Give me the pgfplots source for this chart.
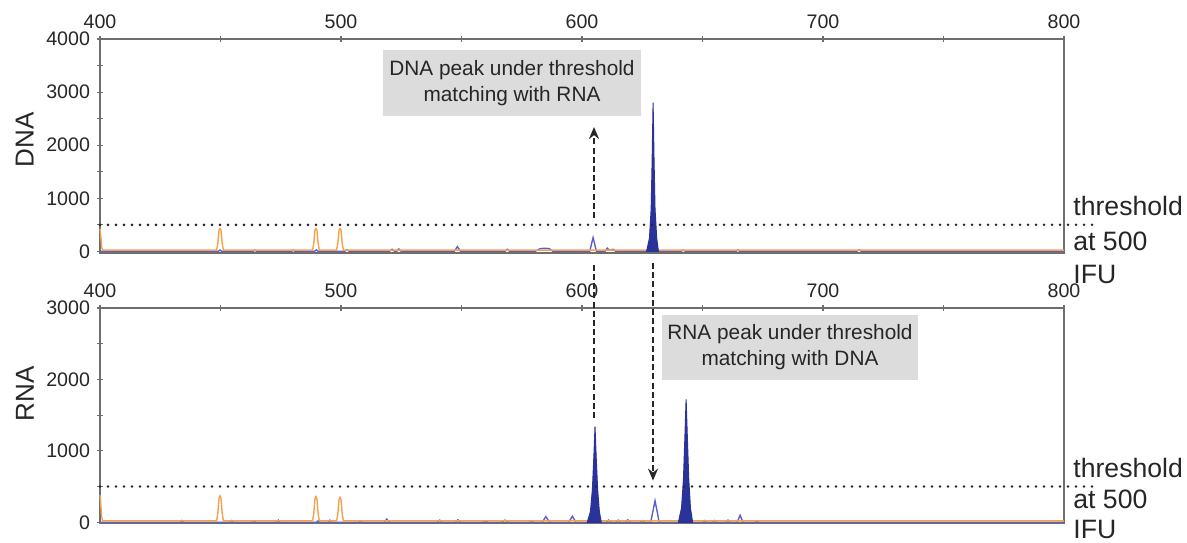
\documentclass[border=0pt]{standalone}
\usepackage{fontspec}
\setmainfont{Liberation Sans}
\usepackage{pgfplots}
\pgfplotsset{compat=1.18}
\usetikzlibrary{arrows.meta}

\definecolor{tracecol}{HTML}{5A5FCF}
\definecolor{peakcol}{HTML}{2A3399}
\definecolor{sizecol}{HTML}{F5A04A}
\definecolor{boxgray}{HTML}{DCDCDC}
\definecolor{axgray}{HTML}{6E6E6E}

\pgfplotsset{
  elecstyle/.style={
    width=482pt, scale only axis,
    xmin=400, xmax=800, clip=false,
    axis line style={axgray, line width=0.9pt},
    xtick={400,500,600,700,800}, minor xtick={450,550,650,750},
    xtick pos=right, xticklabel pos=right, ytick pos=left,
    tick align=center, major tick length=3pt, minor tick length=3pt,
    tick style={axgray, line width=0.6pt},
    ticklabel style={font=\fontsize{9.8}{11}\selectfont, text=black!85},
    /pgf/number format/1000 sep={},
    /pgf/number format/assume math mode=true,
  }
}
\tikzset{
  dotline/.style={black!85, line width=1.4pt, line cap=round, dash pattern=on 0pt off 4pt},
  thrlab/.style={anchor=base west, inner sep=0pt, text=black!85, font=\fontsize{13.3}{16}\selectfont},
  notebox/.style={fill=boxgray, align=center, text=black!85, inner sep=0pt,
    font=\fontsize{10.4}{13}\selectfont},
  matcharrow/.style={black!85, line width=1.1pt, dash pattern=on 3pt off 1.6pt}
}

\begin{document}
\begin{tikzpicture}

% ---- DNA panel ----
\begin{axis}[elecstyle, at={(50pt,144.5pt)}, anchor=south west, height=107pt,
  ymin=-30, ymax=4000,
  ytick={0,1000,2000,3000,4000}, minor ytick={500,1500,2500,3500},
  ylabel={DNA},
  ylabel style={at={(axis description cs:-0.078,0.53)}, anchor=center,
    font=\fontsize{13}{14}\selectfont, text=black!85}]

\addplot[tracecol, line width=0.7pt] coordinates {
  (400,0)(449,0)(449.8,25)(450.6,0)(463.5,0)(464.3,25)(465,0)
  (479.5,0)(480.2,25)(481,0)(489,0)(489.8,30)(490.6,0)
  (501.5,0)(502.5,30)(503.5,0)(520,0)(521.2,40)(522.4,0)(523,0)(524,45)(525,0)
  (547,0)(548.3,90)(549.6,0)(568,0)(569,40)(570,0)
  (580.5,0)(582.5,50)(584.5,60)(586.5,50)(588,0)
  (603.2,0)(604.6,260)(606,0)(609.5,0)(610.5,60)(611.5,20)(613,40)(614,0)
  (641,0)(642,25)(643,0)(664,0)(664.7,30)(665.4,0)(714,0)(715,30)(716,0)(800,0)};

\addplot[sizecol, line width=0.7pt] coordinates {
  (400,430)(400.3,300)(400.7,80)(401.1,25)
  (448.4,25)(448.9,150)(449.4,400)(449.8,430)(450.2,400)(450.7,150)(451.2,25)
  (488.2,25)(488.7,150)(489.2,400)(489.6,430)(490,400)(490.5,150)(491,25)
  (498.2,25)(498.7,150)(499.2,400)(499.6,430)(500,400)(500.5,150)(501,25)
  (800,25)};

\addplot[peakcol, fill=peakcol, line width=0.5pt] coordinates {
  (626.8,0)(628,250)(628.7,800)(629.1,1700)(629.5,2800)
  (629.9,1700)(630.3,800)(631,250)(631.7,0)} \closedcycle;

\draw[dotline] (axis cs:400,500) -- (axis cs:813.7,500);
\end{axis}

% ---- RNA panel ----
\begin{axis}[elecstyle, at={(50pt,9.5pt)}, anchor=south west, height=107.5pt,
  ymin=-10, ymax=3000,
  ytick={0,1000,2000,3000}, minor ytick={500,1500,2500},
  ylabel={RNA},
  ylabel style={at={(axis description cs:-0.078,0.60)}, anchor=center,
    font=\fontsize{13}{14}\selectfont, text=black!85}]

\addplot[tracecol, line width=0.7pt] coordinates {
  (400,0)(433.3,0)(434,25)(434.7,0)(454,0)(454.7,25)(455.4,0)
  (463.3,0)(464,20)(464.7,0)(473.3,0)(474,30)(474.7,0)
  (489.8,0)(490.5,20)(491.2,0)(494.6,0)(495.4,30)(496.2,0)
  (507.3,0)(508,15)(508.7,0)(518,0)(519,45)(520,0)
  (540,0)(541,30)(542,0)(547.5,0)(548.5,35)(549.5,0)
  (559,0)(560,20)(561,0)(566.5,0)(568,30)(569.5,0)
  (578,0)(579,15)(580,0)(583.5,0)(585,80)(586.5,0)(594.5,0)(596,85)(597.5,0)
  (610,0)(611,30)(612,0)(614,0)(615,30)(616,0)(618,0)(619,35)(620,0)
  (624,0)(625,25)(626,0)(628.5,0)(629.4,150)(630.3,300)(631.2,150)(632,0)
  (650.2,0)(651,25)(651.8,0)(654.2,0)(655,25)(655.8,0)
  (659.8,0)(660.6,30)(661.4,0)(664.4,0)(665.6,100)(666.8,0)
  (672,0)(672.6,15)(673.2,0)(800,0)};

\addplot[sizecol, line width=0.7pt] coordinates {
  (400,380)(400.3,260)(400.7,70)(401.1,20)
  (448.4,20)(448.9,130)(449.4,340)(449.8,370)(450.2,340)(450.7,130)(451.2,20)
  (488.2,20)(488.7,125)(489.2,330)(489.6,360)(490,330)(490.5,125)(491,20)
  (498.2,20)(498.7,120)(499.2,320)(499.6,350)(500,320)(500.5,120)(501,20)
  (800,20)};

\addplot[peakcol, fill=peakcol, line width=0.5pt] coordinates {
  (602.2,0)(603.5,150)(604.3,450)(604.9,900)(605.4,1340)
  (605.9,900)(606.5,450)(607.2,150)(608,0)} \closedcycle;
\addplot[peakcol, fill=peakcol, line width=0.5pt] coordinates {
  (640,0)(641.3,200)(642.1,600)(642.7,1200)(643.2,1720)
  (643.7,1200)(644.3,600)(645,200)(645.9,0)} \closedcycle;

\draw[dotline] (axis cs:400,500) -- (axis cs:813.7,500);
\end{axis}

% ---- annotations ----
\node[notebox, minimum width=129pt, minimum height=33pt] at (256pt,229.5pt)
  {DNA peak under threshold\\matching with RNA};
\node[notebox, minimum width=128pt, minimum height=32.5pt] at (395pt,97.25pt)
  {RNA peak under threshold\\matching with DNA};

\draw[matcharrow] (297pt,62pt) -- (297pt,139.5pt);
\draw[matcharrow, -{Stealth[length=6pt, width=5pt]}] (297pt,162pt) -- (297pt,207.5pt);
\draw[matcharrow, -{Stealth[length=6pt, width=5pt]}] (326.5pt,139.5pt) -- (326.5pt,30.7pt);

\node[thrlab] at (536.5pt,163.5pt) {threshold};
\node[thrlab] at (536.5pt,145.7pt) {at 500};
\node[thrlab] at (536.5pt,129.5pt) {IFU};
\node[thrlab] at (536.5pt,32.5pt) {threshold};
\node[thrlab] at (536.5pt,17pt) {at 500};
\node[thrlab] at (536.5pt,2pt) {IFU};

\pgfresetboundingbox
\path (0pt,0pt) rectangle (593.5pt,271pt);
\end{tikzpicture}
\end{document}
